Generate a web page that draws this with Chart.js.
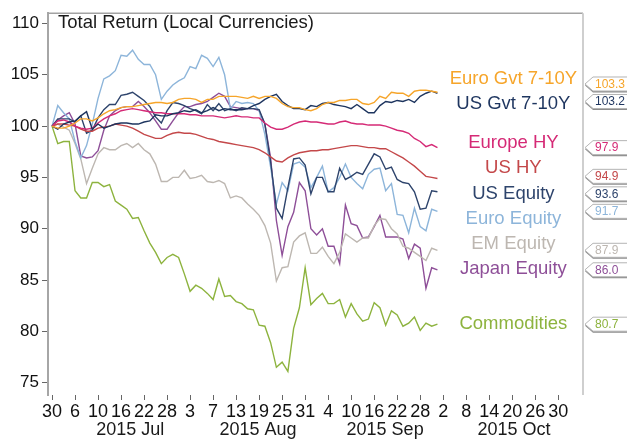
<!DOCTYPE html>
<html>
<head>
<meta charset="utf-8">
<script src="https://cdn.jsdelivr.net/npm/chart.js@4.4.1/dist/chart.umd.min.js"></script>
<style>
  html, body { margin: 0; padding: 0; background: #fff; }
</style>
</head>
<body>
<canvas id="chart" width="627" height="439"></canvas>
<script>
// one point per business day, 30 Jun 2015 -> 1 Oct 2015
const names = ['Euro Gvt 7-10Y', 'US Gvt 7-10Y', 'Europe HY', 'US HY', 'US Equity',
               'Euro Equity', 'EM Equity', 'Japan Equity', 'Commodities'];
const colors = ['#F6A52A', '#1E355F', '#D52A76', '#C4484A', '#2E446C',
                '#8DB5DA', '#BDB7B1', '#8E4F98', '#8DB33E'];

const euroGvt = [100, 99.8, 99.8, 100.0, 100.3, 100.7, 100.7, 100.5, 100.8, 101.2,
  101.5, 101.6, 101.8, 101.9, 101.9, 102.0, 102.1, 102.2, 102.3, 102.3,
  102.2, 102.3, 102.6, 102.7, 102.7, 102.6, 102.3, 102.6, 102.6, 102.9,
  102.9, 102.9, 102.9, 102.8, 102.7, 102.9, 102.7, 102.9, 102.9, 102.7,
  102.2, 101.9, 101.8, 101.8, 101.6, 101.5, 101.7, 102.1, 102.3, 102.3,
  102.5, 102.5, 102.6, 102.6, 102.2, 102.1, 102.3, 102.9, 102.7, 103.3,
  103.2, 103.2, 102.9, 103.4, 103.5, 103.5, 103.4, 103.3];
const usGvt = [100, 99.7, 100.2, 100.4, 100.5, 101.0, 101.4, 99.7, 100.2, 99.8,
  100.0, 100.2, 100.3, 100.3, 100.2, 100.2, 100.4, 100.5, 101.1, 101.0,
  101.0, 101.2, 101.3, 101.5, 101.4, 101.6, 101.3, 101.5, 101.8, 101.5,
  101.7, 101.6, 101.6, 101.6, 101.7, 102.0, 102.2, 102.6, 102.9, 103.1,
  102.4, 102.0, 101.7, 101.7, 101.6, 102.0, 101.9, 102.2, 102.3, 102.1,
  102.0, 101.9, 101.7, 102.1, 101.7, 101.3, 101.3, 102.0, 102.4, 102.3,
  102.5, 102.4, 102.6, 102.3, 102.9, 103.2, 103.4, 103.2];
const europeHY = [100, 100.5, 100.6, 100.4, 100.0, 99.8, 99.7, 99.8, 100.3, 100.7,
  101.0, 101.2, 101.5, 101.6, 101.7, 101.6, 101.5, 101.4, 101.3, 101.3,
  101.2, 101.2, 101.2, 101.2, 101.1, 101.1, 101.0, 101.0, 101.0, 100.9,
  100.8, 100.9, 101.0, 100.9, 100.9, 100.8, 100.8, 100.3, 99.9, 99.7,
  99.7, 99.9, 100.2, 100.4, 100.5, 100.4, 100.4, 100.3, 100.2, 100.2,
  100.4, 100.5, 100.3, 100.2, 100.2, 100.1, 100.1, 100.1, 100.0, 99.8,
  99.6, 99.5, 99.3, 98.8, 98.5, 98.0, 98.2, 97.9];
const usHY = [100, 100.2, 100.2, 100.1, 100.0, 99.7, 99.5, 99.5, 99.8, 99.9,
  100.0, 100.2, 100.1, 100.0, 99.8, 99.5, 99.2, 99.0, 98.8, 98.8,
  99.1, 99.3, 99.4, 99.3, 99.3, 99.2, 99.0, 98.8, 98.7, 98.5,
  98.4, 98.3, 98.2, 98.1, 98.0, 97.9, 97.7, 97.4, 97.0, 96.6,
  96.5, 96.9, 97.2, 97.4, 97.5, 97.6, 97.6, 97.7, 97.7, 97.8,
  97.9, 98.0, 98.1, 98.1, 98.0, 97.9, 97.9, 97.8, 97.8, 97.5,
  97.2, 96.9, 96.5, 96.1, 95.6, 95.1, 95.0, 94.9];
const usEquity = [100, 100.7, 100.7, 100.7, 100.4, 101.0, 99.3, 99.6, 100.8, 101.6,
  102.1, 102.1, 103.0, 103.1, 103.3, 102.9, 102.5, 101.9, 100.9, 100.3,
  101.5, 102.3, 102.2, 102.0, 101.7, 101.5, 101.2, 102.1, 101.5, 102.2,
  101.5, 101.7, 101.5, 101.8, 101.7, 101.7, 101.6, 100.2, 96.5, 92.0,
  91.0, 94.0, 96.8, 96.9, 96.2, 93.4, 95.0, 95.0, 93.6, 93.6,
  95.9, 94.8, 95.1, 95.5, 95.3, 96.3, 97.3, 97.0, 95.8, 96.0,
  94.8, 94.5, 94.4, 93.6, 91.9, 92.0, 93.7, 93.6];
const euroEquity = [100, 102.0, 101.3, 100.7, 98.5, 96.9, 98.1, 100.2, 102.7, 104.6,
  104.9, 105.4, 106.9, 106.8, 107.4, 106.5, 106.0, 106.0, 105.0, 102.6,
  103.4, 104.0, 104.4, 104.7, 105.8, 105.6, 106.9, 106.6, 105.8, 106.7,
  105.0, 101.7, 102.4, 102.2, 102.3, 102.2, 101.5, 99.2, 96.0, 92.4,
  94.5, 93.7, 96.3, 96.5, 96.0, 94.0, 95.0, 96.1, 93.6, 94.0,
  95.0, 96.3, 95.0, 94.4, 93.9, 95.3, 95.8, 95.9, 93.7, 94.4,
  91.4, 91.3, 89.6, 92.0, 90.2, 89.8, 91.9, 91.7];
const emEquity = [100, 100.2, 99.9, 99.6, 98.3, 96.8, 94.4, 95.9, 97.3, 97.9,
  97.7, 97.7, 98.1, 98.3, 97.9, 98.3, 97.7, 97.3, 96.3, 94.6,
  94.6, 95.0, 95.0, 95.7, 94.9, 95.0, 95.2, 94.6, 94.5, 94.7,
  94.4, 93.0, 93.2, 93.0, 92.4, 91.9, 91.3, 90.3, 88.6, 84.9,
  86.2, 86.3, 88.7, 89.3, 89.6, 87.6, 87.6, 88.2, 87.3, 86.6,
  87.7, 89.5, 89.1, 88.7, 89.1, 89.1, 90.3, 91.0, 90.9, 90.0,
  89.5, 88.3, 88.1, 87.7, 87.3, 86.9, 88.1, 87.9];
const japanEquity = [100, 100.6, 101.0, 101.3, 100.2, 97.1, 96.9, 97.0, 97.6, 99.6,
  101.0, 101.5, 101.8, 101.9, 101.9, 102.4, 101.9, 101.3, 100.5, 99.7,
  99.7, 100.5, 101.3, 101.9, 101.9, 102.1, 102.2, 102.4, 102.8, 103.2,
  102.9, 101.9, 101.8, 101.7, 101.7, 101.7, 101.5, 100.2, 96.9, 90.8,
  87.4, 90.2, 91.6, 94.5, 93.7, 90.0, 89.4, 90.0, 88.3, 88.3,
  86.6, 92.3, 90.5, 90.3, 89.1, 89.2, 90.2, 91.3, 89.2, 89.2,
  89.2, 89.0, 87.1, 88.5, 88.1, 84.2, 86.2, 86.0];
const commodities = [100, 98.3, 98.5, 98.5, 93.7, 93.0, 93.0, 94.5, 94.5, 94.1,
  94.3, 92.7, 92.3, 91.9, 91.0, 91.1, 89.8, 88.6, 87.7, 86.6,
  87.2, 87.5, 87.2, 85.6, 83.9, 84.5, 84.2, 83.7, 83.1, 85.1,
  83.4, 83.5, 82.9, 82.7, 82.2, 82.1, 80.6, 80.5, 78.9, 76.5,
  77.0, 76.1, 80.3, 82.3, 86.2, 82.6, 83.2, 83.7, 82.7, 82.7,
  83.1, 81.4, 82.7, 81.7, 81.0, 81.2, 82.8, 82.3, 80.6, 82.0,
  81.6, 80.5, 80.8, 81.4, 80.1, 80.8, 80.5, 80.7];

const series = [euroGvt, usGvt, europeHY, usHY, usEquity, euroEquity, emEquity, japanEquity, commodities];

// x axis: a tick every 4th business day, 30 Jun -> 30 Oct
const dayTicks = ['30', '6', '10', '16', '22', '28', '3', '7', '13', '19', '25', '31',
                  '4', '10', '16', '22', '28', '2', '8', '14', '20', '26', '30'];
const months = ['2015 Jul', '2015 Aug', '2015 Sep', '2015 Oct'];
const yTicks = [75, 80, 85, 90, 95, 100, 105, 110];

// layout (axis units)
const monthAt = [13.6, 35.8, 57.9, 80.3];
const nameX = 80.2;
const nameAt = [104.56, 102.14, 98.35, 95.92, 93.4, 90.97, 88.54, 86.1, 80.68];

const FONT = '"Liberation Sans", Arial, sans-serif';

const overlay = {
    id: 'overlay',
    beforeDatasetsDraw(chart) {
        const { ctx, chartArea: a } = chart;
        ctx.save();
        ctx.lineWidth = 1.5;
        ctx.strokeStyle = '#A3A3A3';
        ctx.beginPath();
        ctx.moveTo(a.left, a.top);
        ctx.lineTo(a.right, a.top);
        ctx.stroke();
        ctx.strokeStyle = '#CFCFCF';
        ctx.lineWidth = 2;
        ctx.beginPath();
        ctx.moveTo(a.right, a.top);
        ctx.lineTo(a.right, a.bottom);
        ctx.stroke();
        ctx.restore();
    },
    afterDraw(chart) {
        const { ctx, chartArea: a, scales: { x, y } } = chart;
        ctx.save();

        // title
        ctx.font = '18.5px ' + FONT;
        ctx.fillStyle = '#1A1A1A';
        ctx.textAlign = 'left';
        ctx.textBaseline = 'middle';
        ctx.fillText('Total Return (Local Currencies)', a.left + 10, 23);

        // month row
        ctx.font = '18px ' + FONT;
        ctx.textAlign = 'center';
        months.forEach((m, k) => ctx.fillText(m, x.getPixelForValue(monthAt[k]), 430));

        // series names inside the plot
        ctx.font = '18.5px ' + FONT;
        names.forEach((n, k) => {
            ctx.fillStyle = colors[k];
            ctx.fillText(n, x.getPixelForValue(nameX), y.getPixelForValue(nameAt[k]));
        });

        // value tags at the right edge
        const GAP = 17.5;
        const tags = series.map((s, k) => ({ k, v: s[s.length - 1], y: y.getPixelForValue(s[s.length - 1]) }))
            .sort((p, q) => p.y - q.y);
        for (let it = 0; it < 60; it++) {
            for (let j = 1; j < tags.length; j++) {
                const d = tags[j].y - tags[j - 1].y;
                if (d < GAP) {
                    const m = (GAP - d) / 2;
                    tags[j - 1].y -= m;
                    tags[j].y += m;
                }
            }
        }
        const tip = a.right + 2, box = tip + 8, h = 14, far = chart.width + 4;
        const shape = (yc, dy) => {
            ctx.beginPath();
            ctx.moveTo(tip, yc + dy);
            ctx.lineTo(box, yc - h / 2 + dy);
            ctx.lineTo(far, yc - h / 2 + dy);
            ctx.lineTo(far, yc + h / 2 + dy);
            ctx.lineTo(box, yc + h / 2 + dy);
            ctx.closePath();
        };
        ctx.font = '12px ' + FONT;
        ctx.textAlign = 'left';
        tags.forEach(t => {
            shape(t.y, 1.5);
            ctx.fillStyle = '#8C8C8C';
            ctx.fill();
            shape(t.y, 0);
            ctx.fillStyle = '#FFFFFF';
            ctx.fill();
            ctx.strokeStyle = '#B4B4B4';
            ctx.lineWidth = 1;
            ctx.stroke();
            ctx.fillStyle = colors[t.k];
            ctx.fillText(t.v.toFixed(1), box + 2, t.y + 0.5);
        });
        ctx.restore();
    }
};

const ctx = document.getElementById('chart').getContext('2d');
new Chart(ctx, {
    type: 'line',
    data: {
        datasets: series.map((s, k) => ({
            label: names[k],
            data: s.map((v, i) => ({ x: i, y: v })),
            borderColor: colors[k],
            borderWidth: 1.4,
            pointRadius: 0,
            tension: 0,
            fill: false
        }))
    },
    options: {
        responsive: false,
        animation: false,
        devicePixelRatio: 1,
        layout: { padding: { top: 12, right: 44, left: 0, bottom: 0 } },
        plugins: { legend: { display: false }, tooltip: { enabled: false } },
        scales: {
            x: {
                type: 'linear',
                min: -0.7,
                max: 92.3,
                afterBuildTicks: sc => { sc.ticks = dayTicks.map((t, k) => ({ value: k * 4 })); },
                afterFit: sc => { sc.height = 44; },
                ticks: {
                    autoSkip: false,
                    maxRotation: 0,
                    padding: 1,
                    color: '#111',
                    font: { family: FONT, size: 18 },
                    callback: (v, i) => dayTicks[i]
                },
                grid: { drawOnChartArea: false, tickLength: 5, color: '#666' },
                border: { display: false }
            },
            y: {
                min: 73.8,
                max: 111,
                afterBuildTicks: sc => { sc.ticks = yTicks.map(v => ({ value: v })); },
                afterFit: sc => { sc.width = 48; },
                ticks: {
                    padding: 3,
                    color: '#111',
                    font: { family: FONT, size: 17 }
                },
                grid: { drawOnChartArea: false, tickLength: 6, color: '#666' },
                border: { color: '#A6A6A6', width: 2 }
            }
        }
    },
    plugins: [overlay]
});
</script>
</body>
</html>
